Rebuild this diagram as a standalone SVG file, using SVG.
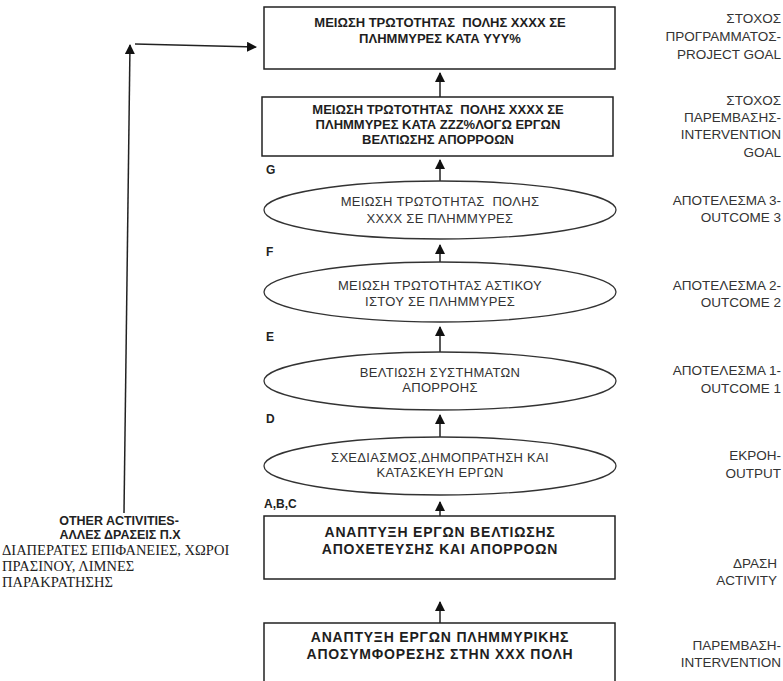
<svg xmlns="http://www.w3.org/2000/svg" width="783" height="681" viewBox="0 0 783 681">
<defs>
<marker id="ah" viewBox="0 0 10 10" refX="9" refY="5" markerWidth="10" markerHeight="10" markerUnits="userSpaceOnUse" orient="auto">
<path d="M0,0 L10,5 L0,10 z" fill="#111"/>
</marker>
</defs>
<style>
.box{fill:#fff;stroke:#222;stroke-width:1.5}
.ell{fill:#fff;stroke:#333;stroke-width:1.3}
.bt{font-family:"Liberation Sans",Arial,sans-serif;font-weight:bold;font-size:13px;fill:#1e1e1e;text-anchor:middle;white-space:pre}
.bt2{font-family:"Liberation Sans",Arial,sans-serif;font-weight:bold;font-size:14px;fill:#1e1e1e;text-anchor:middle;letter-spacing:0.8px}
.et{font-family:"Liberation Sans",Arial,sans-serif;font-size:13px;fill:#333;text-anchor:middle;letter-spacing:0.3px;white-space:pre}
.rt{font-family:"Liberation Sans",Arial,sans-serif;font-size:13.5px;fill:#333;text-anchor:end}
.lt{font-family:"Liberation Sans",Arial,sans-serif;font-weight:bold;font-size:12px;fill:#222}
.lb{font-family:"Liberation Sans",Arial,sans-serif;font-weight:bold;font-size:12.5px;fill:#222;text-anchor:middle}
.ls{font-family:"Liberation Serif","Times New Roman",serif;font-size:14.5px;fill:#222}
.c{stroke:#222;stroke-width:1.5;fill:none}
</style>
<g id="connectors">
<line class="c" x1="440" y1="97" x2="440" y2="73" marker-end="url(#ah)"/>
<line class="c" x1="440" y1="181" x2="440" y2="160" marker-end="url(#ah)"/>
<line class="c" x1="440" y1="262" x2="440" y2="245" marker-end="url(#ah)"/>
<line class="c" x1="440" y1="352" x2="440" y2="327" marker-end="url(#ah)"/>
<line class="c" x1="440" y1="437" x2="440" y2="415" marker-end="url(#ah)"/>
<line class="c" x1="440" y1="516" x2="440" y2="502" marker-end="url(#ah)"/>
<line class="c" x1="440" y1="623" x2="440" y2="602" marker-end="url(#ah)"/>
<line class="c" x1="124" y1="513" x2="130" y2="45" marker-end="url(#ah)"/>
<line class="c" x1="135" y1="44" x2="256" y2="47" marker-end="url(#ah)"/>
</g>
<g id="project-goal">
<rect class="box" x="264" y="7" width="351" height="62"/>
<text class="bt" x="440" y="27">ΜΕΙΩΣΗ ΤΡΩΤΟΤΗΤΑΣ  ΠΟΛΗΣ XXXX ΣΕ</text>
<text class="bt" x="440" y="43">ΠΛΗΜΜΥΡΕΣ ΚΑΤΑ YYY%</text>
</g>
<g id="intervention-goal">
<rect class="box" x="262" y="97" width="351" height="59"/>
<text class="bt" x="438" y="114">ΜΕΙΩΣΗ ΤΡΩΤΟΤΗΤΑΣ  ΠΟΛΗΣ XXXX ΣΕ</text>
<text class="bt" x="438" y="129">ΠΛΗΜΜΥΡΕΣ ΚΑΤΑ ZZZ%ΛΟΓΩ ΕΡΓΩΝ</text>
<text class="bt" x="438" y="144">ΒΕΛΤΙΩΣΗΣ ΑΠΟΡΡΟΩΝ</text>
</g>
<g id="outcome3">
<ellipse class="ell" cx="440" cy="210" rx="176" ry="29"/>
<text class="et" x="440" y="206">ΜΕΙΩΣΗ ΤΡΩΤΟΤΗΤΑΣ  ΠΟΛΗΣ</text>
<text class="et" x="440" y="223">XXXX ΣΕ ΠΛΗΜΜΥΡΕΣ</text>
</g>
<g id="outcome2">
<ellipse class="ell" cx="440" cy="292" rx="176" ry="30"/>
<text class="et" x="440" y="290">ΜΕΙΩΣΗ ΤΡΩΤΟΤΗΤΑΣ ΑΣΤΙΚΟΥ</text>
<text class="et" x="440" y="306">ΙΣΤΟΥ ΣΕ ΠΛΗΜΜΥΡΕΣ</text>
</g>
<g id="outcome1">
<ellipse class="ell" cx="440" cy="381" rx="176" ry="29"/>
<text class="et" x="440" y="377">ΒΕΛΤΙΩΣΗ ΣΥΣΤΗΜΑΤΩΝ</text>
<text class="et" x="440" y="392">ΑΠΟΡΡΟΗΣ</text>
</g>
<g id="output">
<ellipse class="ell" cx="440" cy="466" rx="176" ry="29"/>
<text class="et" x="440" y="462">ΣΧΕΔΙΑΣΜΟΣ,ΔΗΜΟΠΡΑΤΗΣΗ ΚΑΙ</text>
<text class="et" x="440" y="477">ΚΑΤΑΣΚΕΥΗ ΕΡΓΩΝ</text>
</g>
<g id="activity">
<rect class="box" x="264" y="516" width="351" height="63"/>
<text class="bt2" x="440" y="537">ΑΝΑΠΤΥΞΗ ΕΡΓΩΝ ΒΕΛΤΙΩΣΗΣ</text>
<text class="bt2" x="440" y="554">ΑΠΟΧΕΤΕΥΣΗΣ ΚΑΙ ΑΠΟΡΡΟΩΝ</text>
</g>
<g id="intervention">
<rect class="box" x="264" y="623" width="351" height="70"/>
<text class="bt2" x="440" y="642">ΑΝΑΠΤΥΞΗ ΕΡΓΩΝ ΠΛΗΜΜΥΡΙΚΗΣ</text>
<text class="bt2" x="440" y="659">ΑΠΟΣΥΜΦΟΡΕΣΗΣ ΣΤΗΝ XXX ΠΟΛΗ</text>
</g>
<g id="letters">
<text class="lt" x="266" y="174">G</text>
<text class="lt" x="266" y="256">F</text>
<text class="lt" x="266" y="341">E</text>
<text class="lt" x="266" y="423">D</text>
<text class="lt" x="264" y="508">A,B,C</text>
</g>
<g id="right-labels">
<text class="rt" x="781" y="23">ΣΤΟΧΟΣ</text>
<text class="rt" x="781" y="41">ΠΡΟΓΡΑΜΜΑΤΟΣ-</text>
<text class="rt" x="781" y="59">PROJECT GOAL</text>
<text class="rt" x="781" y="105">ΣΤΟΧΟΣ</text>
<text class="rt" x="781" y="122">ΠΑΡΕΜΒΑΣΗΣ-</text>
<text class="rt" x="781" y="139">INTERVENTION</text>
<text class="rt" x="781" y="157">GOAL</text>
<text class="rt" x="781" y="205">ΑΠΟΤΕΛΕΣΜΑ 3-</text>
<text class="rt" x="781" y="222">OUTCOME 3</text>
<text class="rt" x="781" y="290">ΑΠΟΤΕΛΕΣΜΑ 2-</text>
<text class="rt" x="781" y="307">OUTCOME 2</text>
<text class="rt" x="781" y="375">ΑΠΟΤΕΛΕΣΜΑ 1-</text>
<text class="rt" x="781" y="393">OUTCOME 1</text>
<text class="rt" x="781" y="460">ΕΚΡΟΗ-</text>
<text class="rt" x="781" y="478">OUTPUT</text>
<text class="rt" x="777" y="568">ΔΡΑΣΗ</text>
<text class="rt" x="777" y="585">ACTIVITY</text>
<text class="rt" x="781" y="650">ΠΑΡΕΜΒΑΣΗ-</text>
<text class="rt" x="781" y="667">INTERVENTION</text>
</g>
<g id="other-activities">
<text class="lb" x="119" y="525">OTHER ACTIVITIES-</text>
<text class="lb" x="120" y="539">ΑΛΛΕΣ ΔΡΑΣΕΙΣ Π.Χ</text>
<text class="ls" x="2" y="555">ΔΙΑΠΕΡΑΤΕΣ ΕΠΙΦΑΝΕΙΕΣ, ΧΩΡΟΙ</text>
<text class="ls" x="2" y="571">ΠΡΑΣΙΝΟΥ, ΛΙΜΝΕΣ</text>
<text class="ls" x="2" y="587">ΠΑΡΑΚΡΑΤΗΣΗΣ</text>
</g>
</svg>
